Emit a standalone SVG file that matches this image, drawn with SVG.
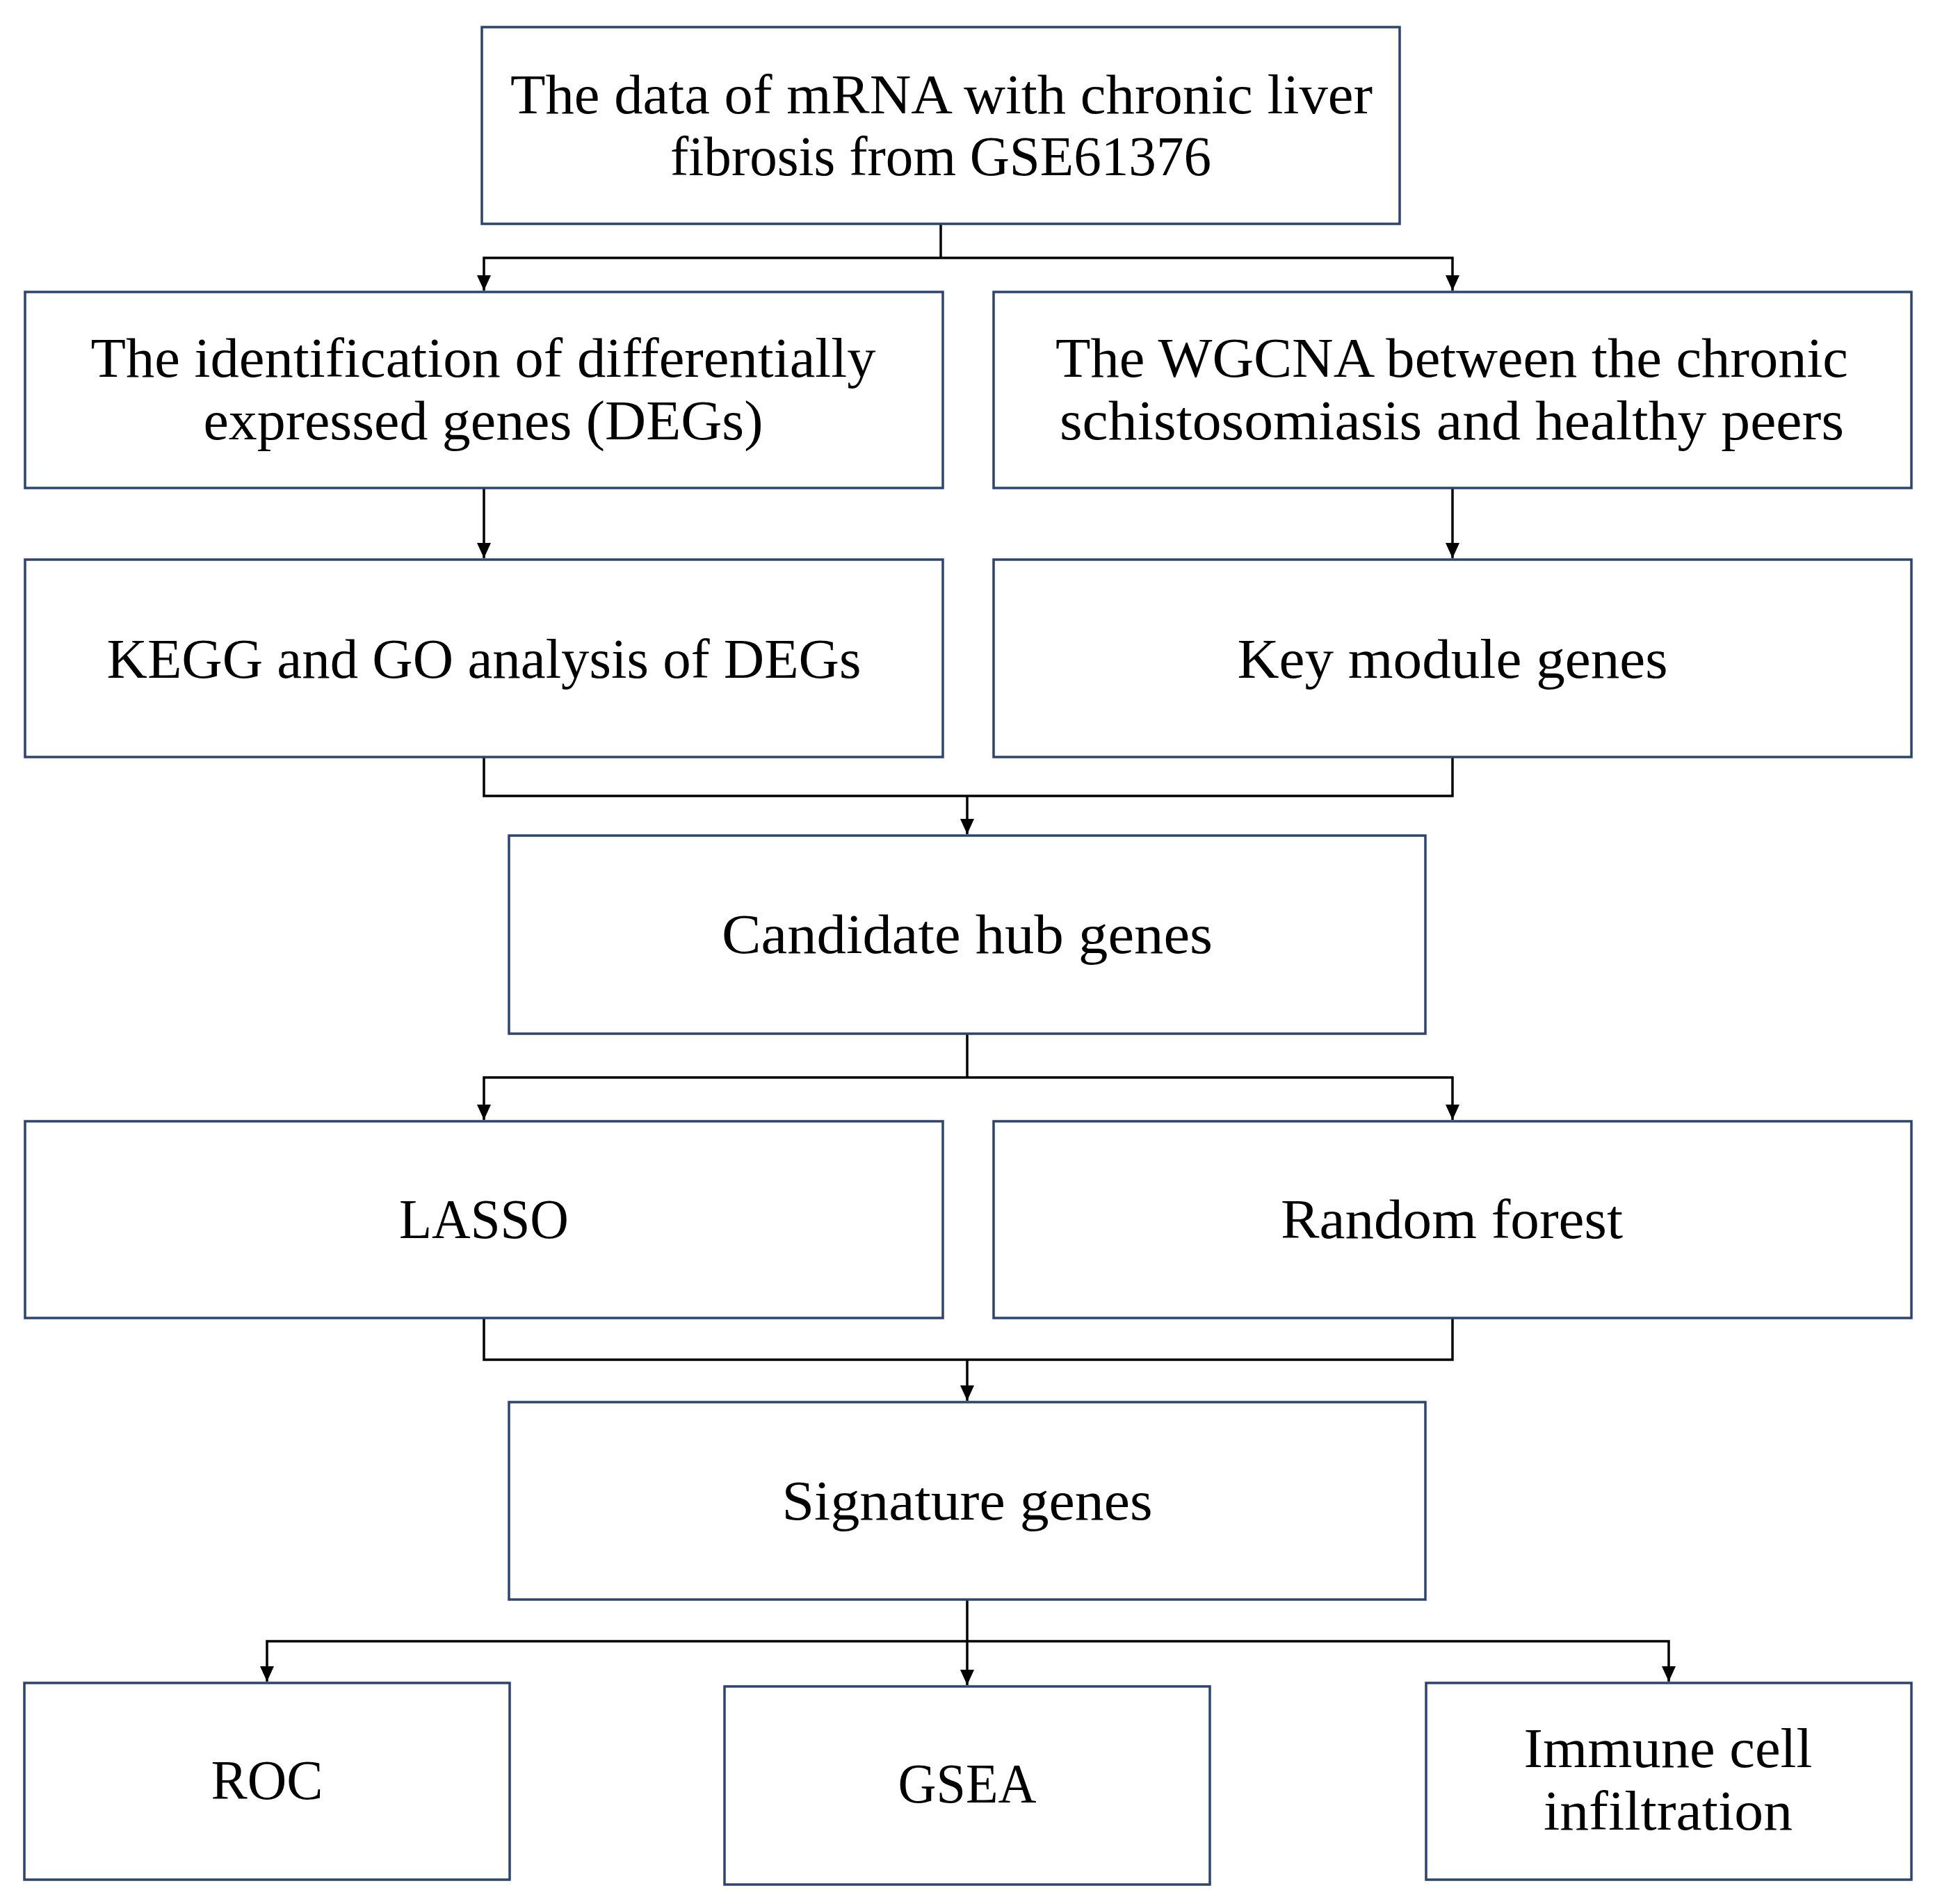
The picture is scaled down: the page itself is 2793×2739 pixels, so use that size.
<svg xmlns="http://www.w3.org/2000/svg" width="2793" height="2739" viewBox="0 0 2793 2739">
<style>
.box{fill:#fff;stroke:#2B4470;stroke-width:3.5}
.lbl{font-family:"Liberation Serif","DejaVu Serif",serif;font-size:80px;fill:#000;text-anchor:middle}
.con{fill:none;stroke:#000;stroke-width:3.5}
</style>
<defs>
<marker id="arr" markerUnits="userSpaceOnUse" markerWidth="24" markerHeight="22" refX="22" refY="10" orient="auto">
<path d="M0,0 L22,10 L0,20 z" fill="#000"/>
</marker>
</defs>
<rect width="2793" height="2739" fill="#fff"/>
<g id="connectors">
<path class="con" d="M1353,322 V371"/>
<path class="con" d="M1353,371 H696 V418" marker-end="url(#arr)"/>
<path class="con" d="M1353,371 H2089 V418" marker-end="url(#arr)"/>
<path class="con" d="M696,702 V803" marker-end="url(#arr)"/>
<path class="con" d="M2089,702 V803" marker-end="url(#arr)"/>
<path class="con" d="M696,1089 V1145 H2089 V1089"/>
<path class="con" d="M1391,1145 V1200" marker-end="url(#arr)"/>
<path class="con" d="M1391,1487 V1550"/>
<path class="con" d="M1391,1550 H696 V1611" marker-end="url(#arr)"/>
<path class="con" d="M1391,1550 H2089 V1611" marker-end="url(#arr)"/>
<path class="con" d="M696,1896 V1956 H2089 V1896"/>
<path class="con" d="M1391,1956 V2015" marker-end="url(#arr)"/>
<path class="con" d="M1391,2301 V2424" marker-end="url(#arr)"/>
<path class="con" d="M1391,2361 H384 V2419" marker-end="url(#arr)"/>
<path class="con" d="M1391,2361 H2400 V2419" marker-end="url(#arr)"/>
</g>
<g id="n_data">
<rect class="box" x="693" y="39" width="1320" height="283"/>
<text class="lbl" x="1354" y="163" textLength="1240" lengthAdjust="spacingAndGlyphs">The data of mRNA with chronic liver</text>
<text class="lbl" x="1353" y="252" textLength="778" lengthAdjust="spacingAndGlyphs">fibrosis from GSE61376</text>
</g>
<g id="n_degs">
<rect class="box" x="36" y="420" width="1320" height="282"/>
<text class="lbl" x="695" y="542" textLength="1129" lengthAdjust="spacingAndGlyphs">The identification of differentially</text>
<text class="lbl" x="695" y="632" textLength="805" lengthAdjust="spacingAndGlyphs">expressed genes (DEGs)</text>
</g>
<g id="n_wgcna">
<rect class="box" x="1429" y="420" width="1320" height="282"/>
<text class="lbl" x="2088" y="542" textLength="1140" lengthAdjust="spacingAndGlyphs">The WGCNA between the chronic</text>
<text class="lbl" x="2088" y="632" textLength="1128" lengthAdjust="spacingAndGlyphs">schistosomiasis and healthy peers</text>
</g>
<g id="n_kegg">
<rect class="box" x="36" y="805" width="1320" height="284"/>
<text class="lbl" x="696" y="975" textLength="1085" lengthAdjust="spacingAndGlyphs">KEGG and GO analysis of DEGs</text>
</g>
<g id="n_key">
<rect class="box" x="1429" y="805" width="1320" height="284"/>
<text class="lbl" x="2089" y="975" textLength="619" lengthAdjust="spacingAndGlyphs">Key module genes</text>
</g>
<g id="n_candidate">
<rect class="box" x="732" y="1202" width="1318" height="285"/>
<text class="lbl" x="1391" y="1371" textLength="706" lengthAdjust="spacingAndGlyphs">Candidate hub genes</text>
</g>
<g id="n_lasso">
<rect class="box" x="36" y="1613" width="1320" height="283"/>
<text class="lbl" x="696" y="1781" textLength="244" lengthAdjust="spacingAndGlyphs">LASSO</text>
</g>
<g id="n_rf">
<rect class="box" x="1429" y="1613" width="1320" height="283"/>
<text class="lbl" x="2088" y="1781" textLength="492" lengthAdjust="spacingAndGlyphs">Random forest</text>
</g>
<g id="n_signature">
<rect class="box" x="732" y="2017" width="1318" height="284"/>
<text class="lbl" x="1391" y="2186" textLength="533" lengthAdjust="spacingAndGlyphs">Signature genes</text>
</g>
<g id="n_roc">
<rect class="box" x="35" y="2421" width="698" height="283"/>
<text class="lbl" x="384" y="2588" textLength="161" lengthAdjust="spacingAndGlyphs">ROC</text>
</g>
<g id="n_gsea">
<rect class="box" x="1042" y="2426" width="698" height="285"/>
<text class="lbl" x="1391" y="2593" textLength="199" lengthAdjust="spacingAndGlyphs">GSEA</text>
</g>
<g id="n_immune">
<rect class="box" x="2051" y="2421" width="698" height="283"/>
<text class="lbl" x="2399" y="2542" textLength="415" lengthAdjust="spacingAndGlyphs">Immune cell</text>
<text class="lbl" x="2399" y="2632" textLength="358" lengthAdjust="spacingAndGlyphs">infiltration</text>
</g>
</svg>
